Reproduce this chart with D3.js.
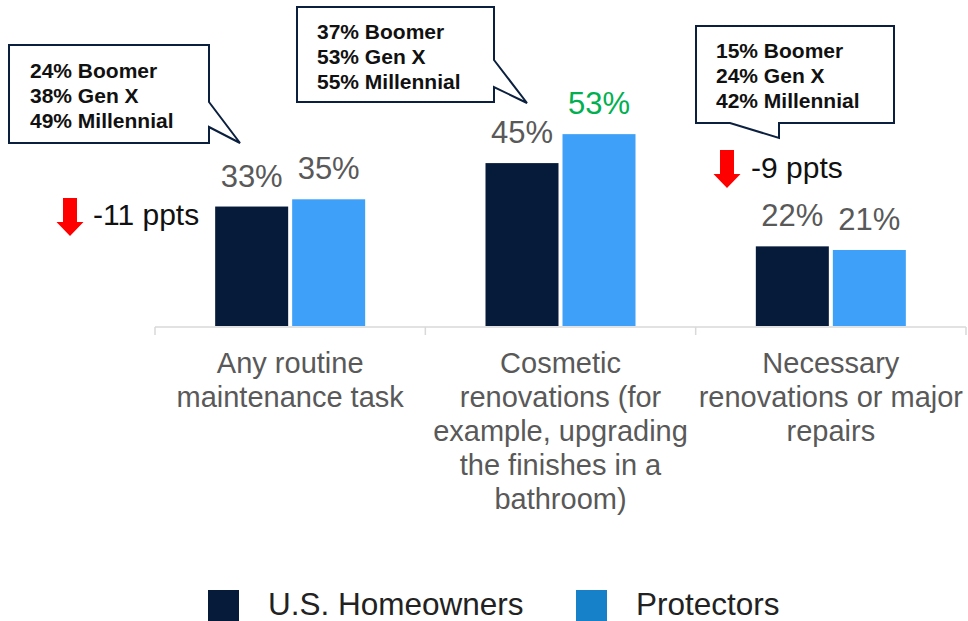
<!DOCTYPE html>
<html>
<head>
<meta charset="utf-8">
<script src="https://cdn.jsdelivr.net/npm/d3@7"></script>
<style>
  body { margin: 0; background: #fff; }
  text { font-family: "Liberation Sans", Arial, sans-serif; }
</style>
</head>
<body>
<script>
const width = 968;
const height = 621;

// data
const categories = [
    ["Any routine", "maintenance task"],
    ["Cosmetic", "renovations (for", "example, upgrading", "the finishes in a", "bathroom)"],
    ["Necessary", "renovations or major", "repairs"]
];
const seriesNames = ["U.S. Homeowners", "Protectors"];
const homeowners = [33, 45, 22];
const protectors = [35, 53, 21];
const protectorsUp = [false, true, false]; // green label
const generations = [
    ["24% Boomer", "38% Gen X", "49% Millennial"],
    ["37% Boomer", "53% Gen X", "55% Millennial"],
    ["15% Boomer", "24% Gen X", "42% Millennial"]
];
const changes = ["-11 ppts", null, "-9 ppts"];

const barColors = ["#061a3a", "#3ea0f8"];
const legendColors = ["#061a3a", "#1681c8"];

const svg = d3.select('body').append('svg')
    .attr('width', width)
    .attr('height', height);

const baseline = 326;

const x0 = d3.scaleBand()
    .domain(d3.range(categories.length))
    .range([155, 966])
    .padding(0);

const x1 = d3.scaleBand()
    .domain(seriesNames)
    .range([0, 150])
    .paddingInner(0.052);

const y = d3.scaleLinear()
    .domain([0, 100])
    .range([baseline, baseline - 362]);

const rows = categories.map((c, i) => ({
    i: i,
    values: [homeowners[i], protectors[i]]
}));

// bars
const groups = svg.append('g').selectAll('g')
    .data(rows)
    .enter().append('g')
    .attr('transform', d => `translate(${x0(d.i) + (x0.bandwidth() - 150) / 2},0)`);

groups.selectAll('rect')
    .data(d => d.values.map((v, k) => ({v: v, k: k, i: d.i})))
    .enter().append('rect')
    .attr('x', d => x1(seriesNames[d.k]))
    .attr('y', d => y(d.v))
    .attr('width', x1.bandwidth())
    .attr('height', d => baseline - y(d.v))
    .attr('fill', d => barColors[d.k]);

groups.selectAll('text')
    .data(d => d.values.map((v, k) => ({v: v, k: k, i: d.i})))
    .enter().append('text')
    .attr('x', d => x1(seriesNames[d.k]) + x1.bandwidth() / 2)
    .attr('y', d => y(d.v) - 20)
    .attr('text-anchor', 'middle')
    .attr('font-size', 31)
    .attr('fill', d => (d.k === 1 && protectorsUp[d.i]) ? '#00b050' : '#595959')
    .text(d => d.v + '%');

// axis line + ticks at category edges
const axis = svg.append('g').attr('stroke', '#d9d9d9').attr('stroke-width', 1.5);
axis.append('line')
    .attr('x1', x0.range()[0]).attr('x2', x0.range()[1])
    .attr('y1', baseline + 1).attr('y2', baseline + 1);
const edges = categories.map((c, i) => x0(i)).concat([x0.range()[1]]);
axis.selectAll('.tick')
    .data(edges)
    .enter().append('line')
    .attr('x1', d => d).attr('x2', d => d)
    .attr('y1', baseline + 1).attr('y2', baseline + 9);

// category labels
svg.append('g').selectAll('text')
    .data(categories)
    .enter().append('text')
    .attr('text-anchor', 'middle')
    .attr('font-size', 29)
    .attr('fill', '#595959')
    .each(function(lines, i) {
        d3.select(this).selectAll('tspan')
            .data(lines)
            .enter().append('tspan')
            .attr('x', x0(i) + x0.bandwidth() / 2)
            .attr('y', (d, j) => 373 + j * 34)
            .text(d => d);
    });

// callouts
const calloutShapes = [
    {path: 'M9,45 H209 V102 L240,143 L209,127 V143 H9 Z', tx: 30, ty: 78},
    {path: 'M297,7 H494 V60 L527,103 L494,87 V102 H297 Z', tx: 317, ty: 39},
    {path: 'M696,26 H894 V123 H779 V138 L730,123 H696 Z', tx: 716, ty: 58}
];
calloutShapes.forEach((c, i) => {
    svg.append('path')
        .attr('d', c.path)
        .attr('fill', '#fff')
        .attr('stroke', '#0b1f3f')
        .attr('stroke-width', 2)
        .attr('stroke-linejoin', 'miter');
    svg.append('text')
        .attr('font-size', 21)
        .attr('font-weight', 'bold')
        .attr('fill', '#111')
        .selectAll('tspan')
        .data(generations[i])
        .enter().append('tspan')
        .attr('x', c.tx)
        .attr('y', (d, j) => c.ty + j * 25)
        .text(d => d);
});

// change arrows
const arrowPos = [
    {cx: 70, top: 198, tx: 93, ty: 225},
    null,
    {cx: 727, top: 150, tx: 751, ty: 178}
];
changes.forEach((t, i) => {
    if (!t) return;
    const p = arrowPos[i];
    const sw = 7, hw = 13.5, h = 38, hh = 14;
    svg.append('path')
        .attr('d', `M${p.cx - sw},${p.top} H${p.cx + sw} V${p.top + h - hh} H${p.cx + hw} L${p.cx},${p.top + h} L${p.cx - hw},${p.top + h - hh} H${p.cx - sw} Z`)
        .attr('fill', '#ff0000');
    svg.append('text')
        .attr('x', p.tx)
        .attr('y', p.ty)
        .attr('font-size', 30)
        .attr('fill', '#111')
        .text(t);
});

// legend
const legendX = [208, 576];
const legend = svg.append('g').selectAll('g')
    .data(seriesNames)
    .enter().append('g')
    .attr('transform', (d, i) => `translate(${legendX[i]},590)`);
legend.append('rect')
    .attr('width', 31).attr('height', 31)
    .attr('fill', (d, i) => legendColors[i]);
legend.append('text')
    .attr('x', 60)
    .attr('y', 25)
    .attr('font-size', 31.5)
    .attr('fill', '#222')
    .text(d => d);
</script>
</body>
</html>
